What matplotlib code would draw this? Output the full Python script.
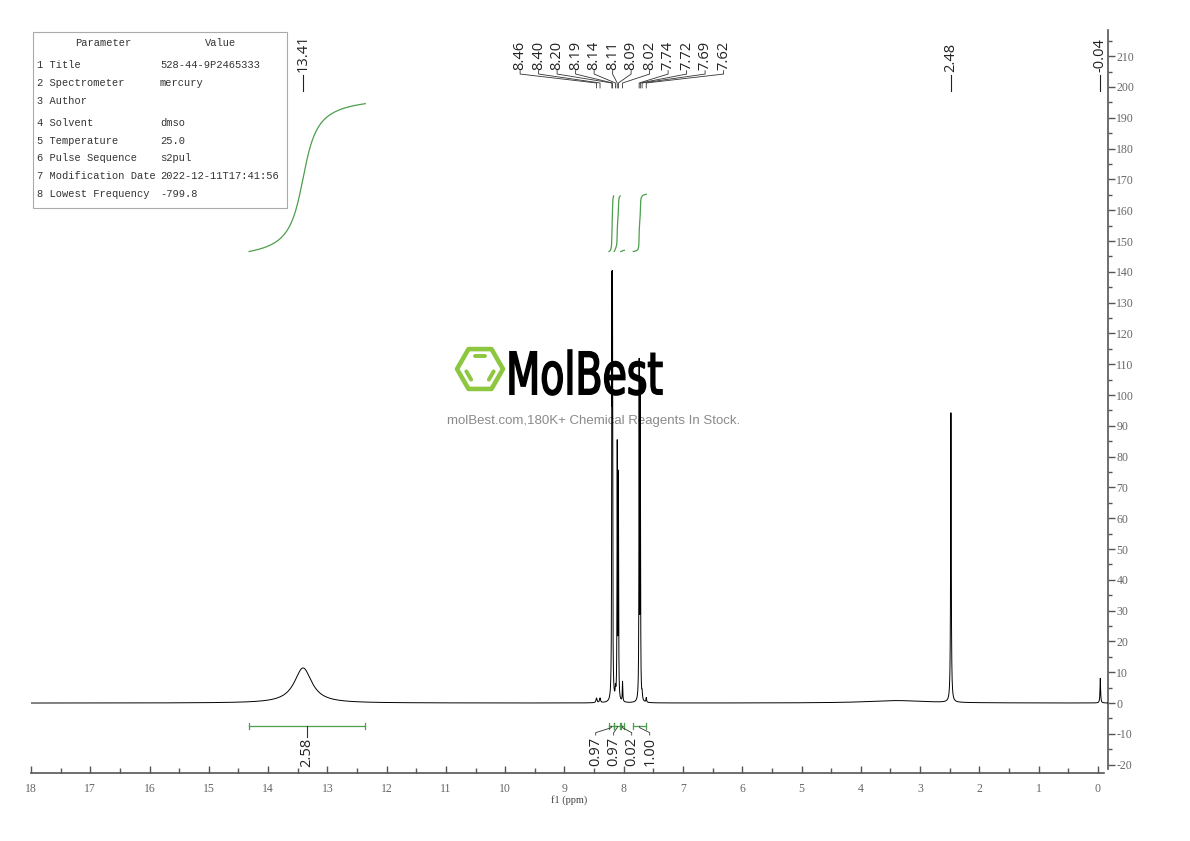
import numpy as np
import matplotlib
matplotlib.use("Agg")
import matplotlib.pyplot as plt
from matplotlib.patches import Rectangle, Polygon, PathPatch
from matplotlib.textpath import TextPath
from matplotlib.font_manager import FontProperties
from matplotlib.ticker import MultipleLocator
from matplotlib.transforms import Affine2D

plt.rcParams["axes.unicode_minus"] = False

W, H = 1190, 841

# peak list: position (ppm), height, half width (ppm)
peak_ppm = [13.41, 8.46, 8.40, 8.20, 8.19, 8.14, 8.11, 8.09, 8.02, 7.74, 7.72, 7.69, 7.62, 3.40, 2.48, -0.04]
peak_height = [11.4, 1.5, 1.5, 123, 123, 3.0, 82, 72, 6.5, 108, 100, 2.0, 1.5, 0.8, 94, 8]
peak_hwhm = [0.18, 0.01, 0.01, 0.004, 0.004, 0.006, 0.004, 0.004, 0.005, 0.004, 0.004, 0.006, 0.006, 0.6, 0.006, 0.006]

# labels on top
single_labels = [13.41, 2.48, -0.04]
cluster_labels = [8.46, 8.40, 8.20, 8.19, 8.14, 8.11, 8.09, 8.02, 7.74, 7.72, 7.69, 7.62]

# integrations
int_from = [14.32, 8.25, 8.16, 8.05, 7.84]
int_to = [12.36, 8.17, 8.06, 7.99, 7.62]
int_value = [2.58, 0.97, 0.97, 0.02, 1.00]

# parameter table
params = ["Title", "Spectrometer", "Author", "Solvent", "Temperature",
          "Pulse Sequence", "Modification Date", "Lowest Frequency"]
values = ["528-44-9P2465333", "mercury", "", "dmso", "25.0",
          "s2pul", "2022-12-11T17:41:56", "-799.8"]
row_y = [65, 83, 101, 123, 141, 158, 176, 194]

GREEN = "#4c9f4c"
AXC = "#555555"
LABEL_FONT = "Open Sans"
TABLE_FONT = "Liberation Mono"
LBL = 10.5
TFS = 7.5

x = np.arange(18.0, -0.17, -0.0005)
y = np.zeros_like(x)
for p, h, w in zip(peak_ppm, peak_height, peak_hwhm):
    y += h / (1 + ((x - p) / w) ** 2)

fig = plt.figure(figsize=(W / 100, H / 100), dpi=100)
ax = fig.add_axes([31 / W, 1 - 773 / H, (1108 - 31) / W, (773 - 30) / H])
ax.patch.set_visible(False)
pxT = Affine2D().scale(1 / W, -1 / H).translate(0, 1) + fig.transFigure

ax.plot(x, y, color="black", lw=0.7, zorder=3)
ax.set_xlim(18, -0.17)
ax.set_ylim(-22.7, 218.5)

# axes styling
for s in ["left", "top"]:
    ax.spines[s].set_visible(False)
for s in ["bottom", "right"]:
    ax.spines[s].set_color(AXC)
    ax.spines[s].set_linewidth(1.2)
ax.spines["bottom"].set_bounds(18, -0.1)
ax.spines["right"].set_bounds(-21.5, 218.5)
ax.yaxis.tick_right()
ax.set_xticks(np.arange(0, 19))
ax.xaxis.set_minor_locator(MultipleLocator(0.5))
ax.set_yticks(np.arange(-20, 211, 10))
ax.yaxis.set_minor_locator(MultipleLocator(5))
ax.tick_params(axis="x", which="major", direction="in", length=5, width=1, colors=AXC, pad=7, labelsize=8.5)
ax.tick_params(axis="x", which="minor", direction="in", length=3.5, width=1, colors=AXC)
ax.tick_params(axis="y", which="major", direction="out", length=5, width=1, colors=AXC, pad=1, labelsize=8.5)
ax.tick_params(axis="y", which="minor", direction="out", length=3, width=1, colors=AXC)
for lbl in ax.get_xticklabels() + ax.get_yticklabels():
    lbl.set_fontfamily("Liberation Serif")
    lbl.set_color("#666666")
ax.set_xlabel("f1 (ppm)", fontsize=7.5, family="Liberation Serif", color="#444444", labelpad=0)

# single peak labels
for p in single_labels:
    ax.text(p, 204.8, f"{p:.2f}", rotation=90, ha="center", va="bottom",
            fontsize=LBL, family=LABEL_FONT, color="#222222", clip_on=False)
    ax.plot([p, p], [198.6, 204.0], color="#222222", lw=0.8, clip_on=False)

# cluster peak labels with connectors
sp = 18.5 / 59.28
n = len(cluster_labels)
c = np.mean(cluster_labels)
for i, p in enumerate(cluster_labels):
    lx = c + (n - 1) / 2 * sp - i * sp
    ax.text(lx, 205.6, f"{p:.2f}", rotation=90, ha="center", va="bottom",
            fontsize=LBL, family=LABEL_FONT, color="#222222", clip_on=False)
    ax.plot([lx, lx, p, p], [205.3, 204.2, 201.3, 199.7], color="#333333", lw=0.6, clip_on=False)

# integration curves and bars
scale, base = 18.6, 146.6
centers = []
for a, b, v in zip(int_from, int_to, int_value):
    m = (x <= a) & (x >= b)
    cum = np.cumsum(y[m])
    ax.plot(x[m], base + cum / cum[-1] * v * scale, color=GREEN, lw=0.9)
    ax.plot([a, b], [-7.5, -7.5], color=GREEN, lw=0.9)
    ax.plot([a, a], [-8.5, -6.5], color=GREEN, lw=0.9)
    ax.plot([b, b], [-8.5, -6.5], color=GREEN, lw=0.9)
    centers.append((a + b) / 2)

# first integral label sits right under its bar
ax.plot([centers[0]] * 2, [-7.5, -11.0], color="#333333", lw=0.8)
ax.text(centers[0], -11.4, f"{int_value[0]:.2f}", rotation=90, ha="center", va="top",
        fontsize=LBL, family=LABEL_FONT, color="#222222")

isp = 18 / 59.28
grp = centers[1:]
gc = np.mean(grp)
for i, (cx, v) in enumerate(zip(grp, int_value[1:])):
    lx = gc + (len(grp) - 1) / 2 * isp - i * isp
    ax.plot([cx, cx, lx, lx], [-7.5, -8.0, -9.6, -10.4], color="#333333", lw=0.6)
    ax.text(lx, -10.9, f"{v:.2f}", rotation=90, ha="center", va="top",
            fontsize=LBL, family=LABEL_FONT, color="#222222")

# parameter table
fig.add_artist(Rectangle((33, 32), 254, 176, transform=pxT, fill=False, ec="#aaaaaa", lw=0.8))
fig.text(103, 43, "Parameter", transform=pxT, ha="center", va="center", fontsize=TFS,
         family=TABLE_FONT, color="#333333")
fig.text(221, 43, "Value", transform=pxT, ha="center", va="center", fontsize=TFS,
         family=TABLE_FONT, color="#333333")
for i, (k, v, ry) in enumerate(zip(params, values, row_y)):
    fig.text(37, ry, f"{i + 1} {k}", transform=pxT, ha="left", va="center", fontsize=TFS,
             family=TABLE_FONT, color="#333333")
    fig.text(160, ry, v, transform=pxT, ha="left", va="center", fontsize=TFS,
             family=TABLE_FONT, color="#333333")

# watermark logo
cx0, cy0, R = 480, 369, 23
ang = np.radians(np.arange(0, 360, 60))
hexv = np.column_stack([cx0 + R * np.cos(ang), cy0 - R * np.sin(ang)])
fig.add_artist(Polygon(hexv, closed=True, fill=False, ec="#8dc63f", lw=3.3,
                       joinstyle="round", transform=pxT, zorder=-1))
r = 15
for k in [1, 3, 5]:
    a1, a2 = np.radians(60 * k), np.radians(60 * (k + 1))
    p1 = np.array([cx0 + r * np.cos(a1), cy0 - r * np.sin(a1)])
    p2 = np.array([cx0 + r * np.cos(a2), cy0 - r * np.sin(a2)])
    q1, q2 = p1 + 0.18 * (p2 - p1), p2 - 0.18 * (p2 - p1)
    fig.add_artist(plt.Line2D([q1[0], q2[0]], [q1[1], q2[1]], color="#8dc63f", lw=2.8,
                              solid_capstyle="round", transform=pxT, zorder=-1))
tp = TextPath((0, 0), "MolBest", size=100, prop=FontProperties(family="DejaVu Sans", weight="normal"))
ext = tp.get_extents()
tr = Affine2D().translate(-ext.x0, -ext.y0).scale(152 / ext.width, -45 / ext.height).translate(510, 395) + pxT
fig.add_artist(PathPatch(tp, transform=tr, fc="black", ec="black", lw=1.2, zorder=-1))
fig.text(594, 421, "molBest.com,180K+ Chemical Reagents In Stock.", transform=pxT,
         ha="center", va="center", fontsize=9.5, family="Liberation Sans", color="#8a8a8a", zorder=-1)

fig.savefig("out.png", dpi=100)
